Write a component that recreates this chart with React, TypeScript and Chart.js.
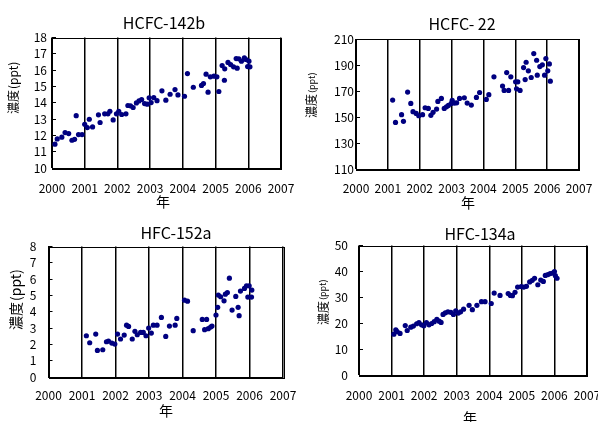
import React, { useEffect, useRef } from "react";
import { Chart, registerables } from "chart.js";

Chart.register(...registerables);

const FONT = "'Noto Sans CJK JP', 'Noto Sans', sans-serif";

// ---- data ----
const xTickLabels = ["2000", "2001", "2002", "2003", "2004", "2005", "2006", "2007"];

const hcfc142bYears = [
  2000.09, 2000.16, 2000.3, 2000.4, 2000.51, 2000.61, 2000.69, 2000.74, 2000.81, 2000.92,
  2001.0, 2001.08, 2001.14, 2001.24, 2001.42, 2001.47, 2001.61, 2001.71, 2001.77, 2001.87,
  2001.97, 2002.04, 2002.13, 2002.26, 2002.32, 2002.4, 2002.48, 2002.58, 2002.66, 2002.74,
  2002.83, 2002.91, 2002.97, 2003.03, 2003.11, 2003.21, 2003.36, 2003.48, 2003.61, 2003.76,
  2003.85, 2004.05, 2004.14, 2004.32, 2004.57, 2004.63, 2004.71, 2004.77, 2004.84, 2004.95,
  2005.04, 2005.1, 2005.2, 2005.27, 2005.28, 2005.38, 2005.46, 2005.55, 2005.63, 2005.66,
  2005.71, 2005.79, 2005.88, 2005.93, 2005.98, 2006.02, 2006.05,
];
const hcfc142bValues = [
  11.46, 11.78, 11.89, 12.17, 12.11, 11.7, 11.76, 13.21, 12.05, 12.05,
  12.68, 12.48, 12.99, 12.52, 13.26, 12.79, 13.32, 13.32, 13.48, 12.95,
  13.32, 13.48, 13.28, 13.32, 13.83, 13.81, 13.71, 13.99, 14.11, 14.2,
  13.95, 13.91, 14.3, 14.01, 14.32, 14.13, 14.73, 14.16, 14.52, 14.81,
  14.48, 14.4, 15.79, 14.95, 15.06, 15.18, 15.75, 14.65, 15.59, 15.63,
  15.59, 14.69, 16.28, 15.38, 16.08, 16.47, 16.34, 16.2, 16.71, 16.12,
  16.69, 16.55, 16.75, 16.65, 16.22, 16.55, 16.2,
];

const hcfc22Years = [
  2001.15, 2001.24, 2001.43, 2001.49, 2001.62, 2001.72, 2001.79, 2001.89, 2001.97, 2002.09,
  2002.17, 2002.27, 2002.35, 2002.42, 2002.53, 2002.57, 2002.68, 2002.77, 2002.84, 2002.9,
  2002.99, 2003.02, 2003.09, 2003.16, 2003.25, 2003.4, 2003.49, 2003.62, 2003.78, 2003.88,
  2004.09, 2004.17, 2004.33, 2004.6, 2004.65, 2004.73, 2004.79, 2004.86, 2005.01, 2005.08,
  2005.04, 2005.15, 2005.26, 2005.31, 2005.34, 2005.41, 2005.5, 2005.58, 2005.67, 2005.69,
  2005.77, 2005.85, 2005.92, 2005.96, 2006.02, 2006.07, 2006.1,
];
const hcfc22Values = [
  163.2, 146.1, 152.0, 146.9, 169.3, 160.6, 154.3, 153.0, 151.2, 152.0,
  157.3, 156.8, 151.5, 153.8, 156.3, 162.2, 164.5, 156.8, 158.1, 159.1,
  160.6, 162.9, 160.9, 161.1, 164.5, 165.0, 160.9, 159.4, 165.2, 169.0,
  163.7, 167.3, 181.0, 173.9, 170.6, 184.3, 170.6, 181.0, 177.2, 177.2,
  171.8, 170.6, 188.1, 178.9, 192.2, 185.6, 180.5, 198.8, 193.7, 182.3,
  188.9, 190.2, 182.3, 195.0, 185.6, 190.9, 177.7,
];

const hfc152aYears = [
  2001.13, 2001.23, 2001.41, 2001.46, 2001.62, 2001.73, 2001.79, 2001.89, 2001.98, 2002.06,
  2002.15, 2002.26, 2002.33, 2002.39, 2002.5, 2002.58, 2002.65, 2002.75, 2002.83, 2002.91,
  2002.99, 2003.07, 2003.13, 2003.24, 2003.37, 2003.5, 2003.61, 2003.78, 2003.83, 2004.06,
  2004.15, 2004.32, 2004.59, 2004.66, 2004.72, 2004.77, 2004.84, 2004.88, 2005.0, 2005.05,
  2005.07, 2005.14, 2005.24, 2005.28, 2005.34, 2005.4, 2005.48, 2005.59, 2005.66, 2005.69,
  2005.73, 2005.85, 2005.91, 2005.99, 2005.95, 2006.06, 2006.07,
];
const hfc152aValues = [
  2.53, 2.1, 2.63, 1.63, 1.67, 2.16, 2.2, 2.08, 2.02, 2.63,
  2.33, 2.57, 3.18, 3.1, 2.33, 2.8, 2.59, 2.73, 2.73, 2.53,
  3.0, 2.69, 3.18, 3.18, 3.65, 2.49, 3.12, 3.18, 3.59, 4.71,
  4.65, 2.84, 3.53, 2.9, 3.53, 2.96, 3.06, 3.12, 3.8, 4.27,
  5.02, 4.92, 4.67, 5.08, 5.18, 6.06, 4.1, 4.94, 4.27, 3.76,
  5.27, 5.43, 5.59, 5.59, 4.9, 4.9, 5.33,
];

const hfc134aYears = [
  2001.07, 2001.13, 2001.17, 2001.26, 2001.42, 2001.48, 2001.59, 2001.67, 2001.77, 2001.84,
  2001.92, 2001.99, 2002.07, 2002.15, 2002.23, 2002.31, 2002.39, 2002.46, 2002.52, 2002.58,
  2002.65, 2002.73, 2002.82, 2002.9, 2002.97, 2003.05, 2003.12, 2003.21, 2003.38, 2003.48,
  2003.62, 2003.76, 2003.87, 2004.06, 2004.15, 2004.33, 2004.58, 2004.65, 2004.71, 2004.79,
  2004.87, 2004.98, 2005.06, 2005.14, 2005.24, 2005.32, 2005.39, 2005.49, 2005.58, 2005.66,
  2005.72, 2005.8, 2005.87, 2005.95, 2006.0, 2006.03, 2006.08,
];
const hfc134aValues = [
  15.9, 17.6, 16.9, 16.2, 19.2, 17.3, 18.6, 19.0, 19.9, 20.3,
  19.5, 19.1, 20.3, 19.5, 20.0, 20.7, 21.6, 20.9, 20.4, 23.5,
  24.1, 24.5, 24.3, 23.5, 24.9, 24.0, 24.5, 25.5, 27.0, 25.3,
  27.0, 28.4, 28.4, 27.7, 31.7, 30.8, 31.5, 30.8, 30.7, 32.0,
  34.0, 34.2, 34.0, 34.3, 36.0, 36.6, 37.4, 34.9, 36.7, 36.2,
  38.5, 38.8, 39.2, 39.4, 40.0, 38.4, 37.4,
];

// ---- layout specs ----
type Spec = {
  title: string;
  cx: number; cy: number;
  xs: number[]; ys: number[];
  yMin: number; yMax: number; yStep: number;
  l: number; r: number; t: number; b: number;
  yGap: number; xPad: number;
  titleX: number; titleY: number;
  xTitleX: number; xTitleY: number;
  yTitleX: number; yTitleBottom: number;
  mainSize: number; subSize: number;
};

const CW = 299;
const CH = 211;
const XH = 30;

const specs: Spec[] = [
  {
    title: "HCFC-142b", cx: 0, cy: 0, xs: hcfc142bYears, ys: hcfc142bValues,
    yMin: 10, yMax: 18, yStep: 1,
    l: 52, r: 281, t: 37.5, b: 168, yGap: 5, xPad: 13,
    titleX: 164, titleY: 23, xTitleX: 163, xTitleY: 202,
    yTitleX: 13, yTitleBottom: 114, mainSize: 12, subSize: 12,
  },
  {
    title: "HCFC- 22", cx: 299, cy: 0, xs: hcfc22Years, ys: hcfc22Values,
    yMin: 110, yMax: 210, yStep: 20,
    l: 57, r: 280, t: 39, b: 169.5, yGap: 2, xPad: 11.5,
    titleX: 163, titleY: 24, xTitleX: 169, xTitleY: 203,
    yTitleX: 12.5, yTitleBottom: 118, mainSize: 12, subSize: 9,
  },
  {
    title: "HFC-152a", cx: 0, cy: 211, xs: hfc152aYears, ys: hfc152aValues,
    yMin: 0, yMax: 8, yStep: 1,
    l: 48.5, r: 283, t: 35.5, b: 166, yGap: 12, xPad: 11,
    titleX: 176, titleY: 22, xTitleX: 166, xTitleY: 200,
    yTitleX: 16, yTitleBottom: 119, mainSize: 14, subSize: 14,
  },
  {
    title: "HFC-134a", cx: 299, cy: 211, xs: hfc134aYears, ys: hfc134aValues,
    yMin: 0, yMax: 50, yStep: 10,
    l: 60, r: 288, t: 34.5, b: 164.5, yGap: 11, xPad: 12.5,
    titleX: 181, titleY: 23, xTitleX: 171, xTitleY: 207,
    yTitleX: 24, yTitleBottom: 114, mainSize: 12, subSize: 9,
  },
];

const framePlugin = {
  id: "frame",
  beforeDatasetsDraw(chart: any) {
    const { ctx, chartArea } = chart;
    ctx.save();
    ctx.strokeStyle = "#000";
    ctx.lineWidth = 1;
    ctx.strokeRect(
      Math.round(chartArea.left) + 0.5,
      Math.round(chartArea.top) + 0.5,
      Math.round(chartArea.right - chartArea.left),
      Math.round(chartArea.bottom - chartArea.top)
    );
    ctx.restore();
  },
};

const textPlugin = {
  id: "texts",
  afterDraw(chart: any, _args: any, opts: any) {
    const ctx = chart.ctx;
    ctx.save();
    ctx.fillStyle = "#000";
    ctx.textAlign = "center";
    ctx.textBaseline = "middle";
    ctx.font = `16px ${FONT}`;
    ctx.fillText(opts.title, opts.titleX, opts.titleY);
    ctx.font = `14px ${FONT}`;
    ctx.fillText("年", opts.xTitleX, opts.xTitleY);
    ctx.translate(opts.yTitleX, opts.yTitleBottom);
    ctx.rotate(-Math.PI / 2);
    ctx.textAlign = "left";
    ctx.font = `${opts.mainSize}px ${FONT}`;
    ctx.fillText("濃度", 0, 0);
    const w = ctx.measureText("濃度").width;
    ctx.font = `${opts.subSize}px ${FONT}`;
    ctx.fillText("(ppt)", w + 1, 0);
    ctx.restore();
  },
};

function Panel({ s }: { s: Spec }) {
  const ref = useRef<HTMLCanvasElement | null>(null);
  useEffect(() => {
    if (!ref.current) return;
    const chart = new Chart(ref.current, {
      type: "scatter",
      data: {
        datasets: [
          {
            data: s.xs.map((x, i) => ({ x, y: s.ys[i] })),
            backgroundColor: "#000080",
            borderWidth: 0,
            pointRadius: 2.6,
            pointStyle: "circle",
          },
        ],
      },
      options: {
        responsive: false,
        animation: false,
        devicePixelRatio: 1,
        layout: {
          padding: { top: s.t, left: 0, right: CW - s.r, bottom: CH - s.b - XH },
        },
        plugins: {
          legend: { display: false },
          tooltip: { enabled: false },
          title: { display: false },
          texts: {
            title: s.title,
            titleX: s.titleX, titleY: s.titleY,
            xTitleX: s.xTitleX, xTitleY: s.xTitleY,
            yTitleX: s.yTitleX, yTitleBottom: s.yTitleBottom,
            mainSize: s.mainSize, subSize: s.subSize,
          },
        } as any,
        scales: {
          x: {
            type: "linear",
            min: 2000,
            max: 2007,
            ticks: {
              stepSize: 1,
              padding: s.xPad,
              color: "#000",
              font: { family: FONT, size: 12 },
              maxRotation: 0,
              autoSkip: false,
              callback: (v: any) => xTickLabels[Math.round(Number(v)) - 2000] ?? "",
            },
            grid: { color: "#000", lineWidth: 1.5, drawTicks: false },
            border: { color: "#000", width: 1 },
            afterFit: (sc: any) => {
              sc.height = XH;
              sc.paddingLeft = 0;
              sc.paddingRight = 0;
            },
          },
          y: {
            type: "linear",
            min: s.yMin,
            max: s.yMax,
            ticks: {
              stepSize: s.yStep,
              autoSkip: false,
              padding: s.yGap + 4,
              color: "#000",
              font: { family: FONT, size: 12 },
            },
            grid: {
              drawOnChartArea: false,
              drawTicks: true,
              tickLength: -4,
              color: "#000",
              lineWidth: 1,
            },
            border: { color: "#000", width: 1 },
            afterFit: (sc: any) => {
              sc.width = s.l;
              sc.paddingTop = 0;
              sc.paddingBottom = 0;
            },
          },
        },
      } as any,
      plugins: [framePlugin, textPlugin],
    });
    return () => chart.destroy();
  }, [s]);
  return (
    <canvas
      ref={ref}
      width={CW}
      height={CH}
      style={{ position: "absolute", left: s.cx, top: s.cy, width: CW, height: CH, display: "block" }}
    />
  );
}

export default function App() {
  return (
    <div
      style={{
        position: "absolute",
        left: 0,
        top: 0,
        width: 598,
        height: 422,
        background: "#fff",
        overflow: "hidden",
      }}
    >
      {specs.map((s, i) => (
        <Panel key={i} s={s} />
      ))}
    </div>
  );
}
